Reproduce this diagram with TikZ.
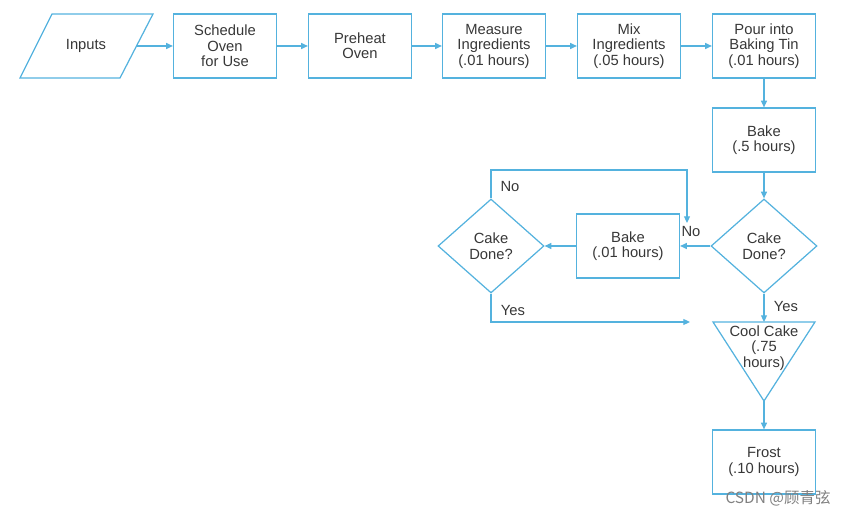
\documentclass[tikz,border=0pt]{standalone}
\usepackage{fontspec}
\setmainfont{Liberation Sans}
\newfontfamily\cjk{Noto Sans CJK SC}
\usetikzlibrary{arrows.meta}
\usetikzlibrary{shapes.geometric}
\definecolor{flowblue}{RGB}{84,178,222}
\definecolor{flowtext}{RGB}{55,55,55}

\begin{document}
\begin{tikzpicture}[x=0.02cm,y=-0.02cm,line width=0.7pt,
    every node/.style={text=flowtext,font=\fontsize{8.4}{8.8}\selectfont,align=center},
    box/.style={draw=flowblue,minimum width=2.06cm,minimum height=1.28cm,inner sep=1pt},
    decision/.style={draw=flowblue,diamond,minimum width=2.12cm,minimum height=1.88cm,inner sep=0pt},
    flow/.style={draw=flowblue,-{Triangle[length=3.8pt,width=3.4pt]}}]
    \useasboundingbox (0,0) rectangle (843,516);
    %top row
    \draw[flowblue] (52,14) -- (153,14) -- (120,78) -- (20,78) -- cycle;
    \node (inputs) at (86,46) {Inputs};
    \coordinate (inputs out) at (137,46);
    \node[box] (sched) at (225,46) {Schedule\\Oven\\for Use};
    \node[box] (preheat) at (360,46) {Preheat\\Oven};
    \node[box] (measure) at (494,46) {Measure\\Ingredients\\(.01 hours)};
    \node[box] (mix) at (629,46) {Mix\\Ingredients\\(.05 hours)};
    \node[box] (pour) at (764,46) {Pour into\\Baking Tin\\(.01 hours)};
    %right column
    \node[box] (bake) at (764,140) {Bake\\(.5 hours)};
    \node[decision] (done) at (764,246) {Cake\\Done?};
    \node[box] (bake2) at (628,246) {Bake\\(.01 hours)};
    \node[decision] (done2) at (491,246) {Cake\\Done?};
    \draw[flowblue] (713,322) -- (815,322) -- (764,401) -- cycle;
    \coordinate (cool top) at (764,322);
    \coordinate (cool tip) at (764,401);
    \node (cool) at (764,348) {Cool Cake\\(.75\\hours)};
    \node[box] (frost) at (764,462) {Frost\\(.10 hours)};
    \coordinate (no end) at (687,223);
    \coordinate (yes end) at (690,322);
    \draw[flow] (inputs out) -- (sched);
    \draw[flow] (sched) -- (preheat);
    \draw[flow] (preheat) -- (measure);
    \draw[flow] (measure) -- (mix);
    \draw[flow] (mix) -- (pour);
    \draw[flow] (pour) -- (bake);
    \draw[flow] (bake) -- (done);
    \draw[flow] (done) -- (bake2);
    \draw[flow] (bake2) -- (done2);
    \draw[flow] (done2.north) |- (687,170) -- (no end);
    \draw[flow] (done2.south) |- (yes end);
    \draw[flow] (done.south) -- (cool top);
    \draw[flow] (cool tip) -- (frost);
    \node (no1) at (691,232) {No};
    \node (no2) at (510,187) {No};
    \node (yes1) at (786,307) {Yes};
    \node (yes2) at (513,311) {Yes};
    \node[text=gray,font=\cjk\fontsize{8.8}{9}\selectfont] (mark) at (778,498) {CSDN @顾青弦};
\end{tikzpicture}
\end{document}
